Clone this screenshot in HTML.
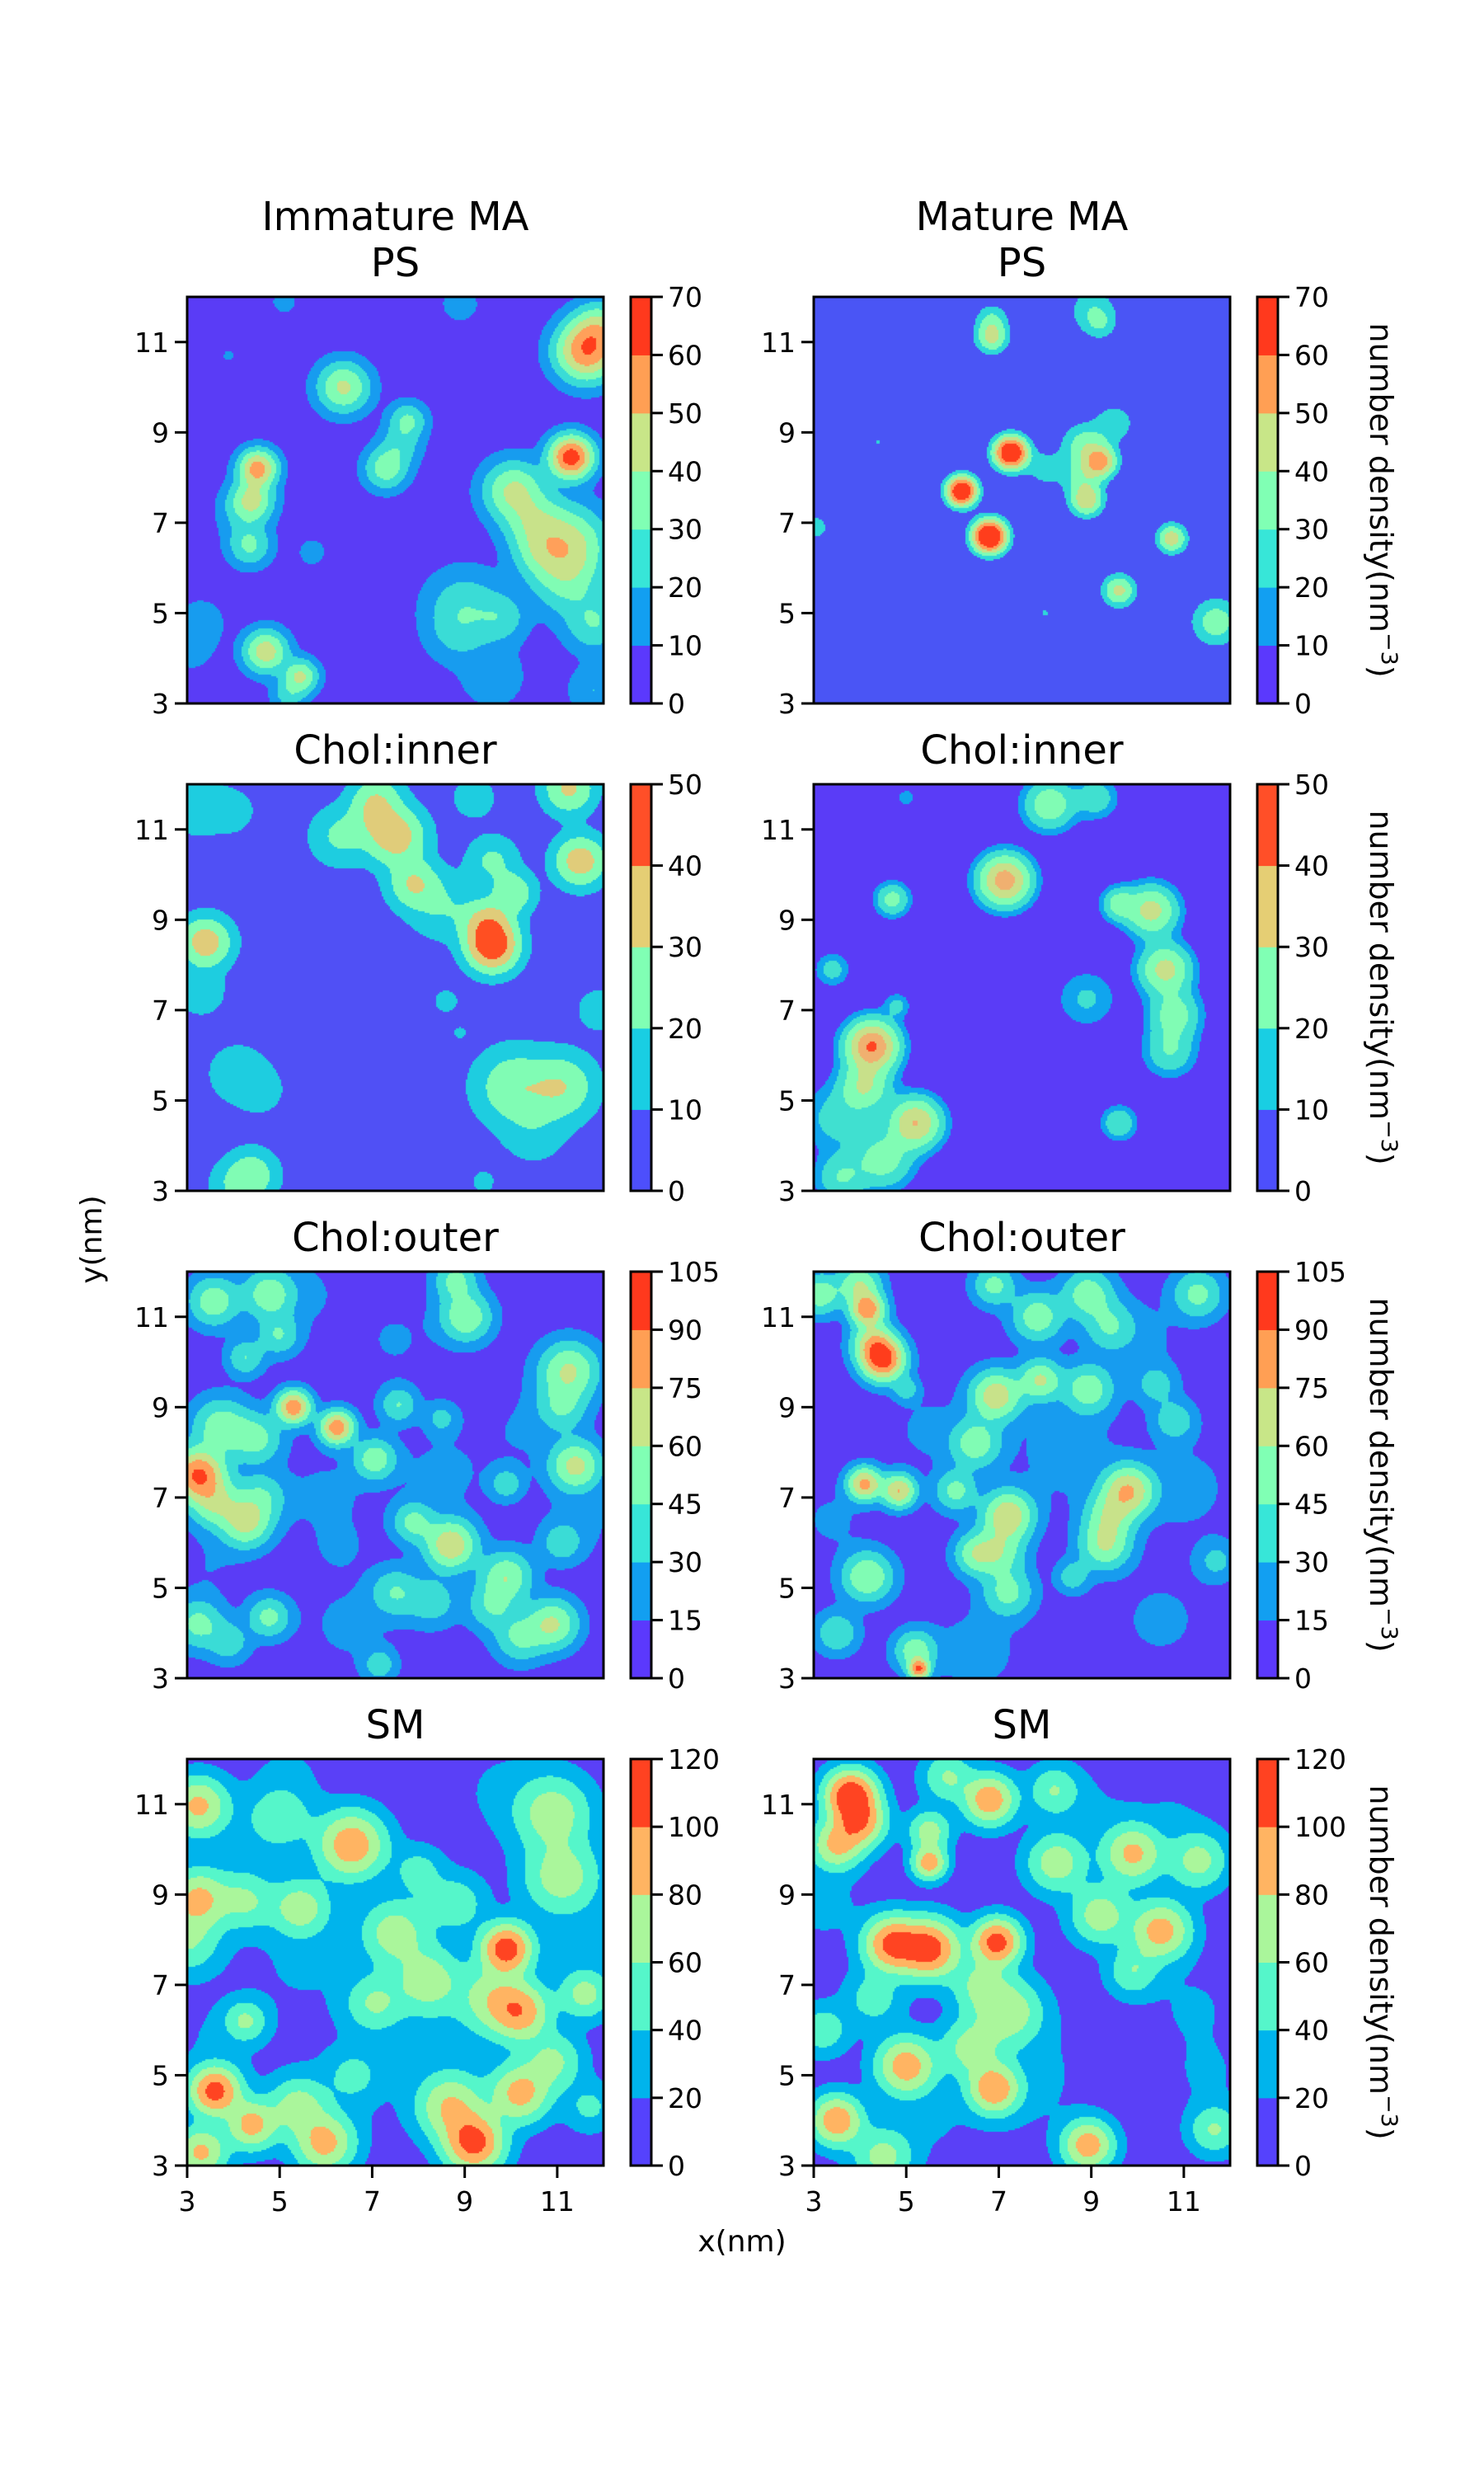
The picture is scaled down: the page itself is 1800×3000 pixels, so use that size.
<!DOCTYPE html>
<html><head><meta charset="utf-8">
<style>
html,body{margin:0;padding:0;background:#fff;}
#root{position:relative;width:1800px;height:3000px;overflow:hidden;background:#fff;}
canvas{position:absolute;}
svg{position:absolute;left:0;top:0;}
text{font-family:"DejaVu Sans","Liberation Sans",sans-serif;fill:#000;}
</style></head>
<body>
<div id="root">
<svg id="ov" width="1800" height="3000"></svg>
</div>
<script>
// ---------- data ----------
const xTicks=[3,5,7,9,11];
const yTicks=[3,5,7,9,11];
const rowTitles=["PS","Chol:inner","Chol:outer","SM"];
const psLevels=[0,10,20,30,40,50,60,70];
const cholInLevels=[0,10,20,30,40,50];
const cholOutLevels=[0,15,30,45,60,75,90,105];
const smLevels=[0,20,40,60,80,100,120];

// PS immature blobs
const psImmX=[11.63,11.9,6.38,7.77,7.3,7.6,4.53,4.4,4.2,11.3,10.06,10.5,11.2,11.2,11.8,4.35,5.7,9.0,9.8,8.8,4.7,5.45,5.2,3.3,3.1,9.6,8.9,5.1,3.9,11.8,10.6];
const psImmY=[10.8,11.3,10.0,9.25,8.2,8.7,8.2,7.5,7.2,8.45,7.7,7.0,6.5,5.7,4.8,6.5,6.35,5.1,4.9,4.5,4.15,3.6,3.2,4.8,4.2,3.6,11.85,11.9,10.7,3.3,6.3];
const psImmA=[58,40,42,32,36,25,55,42,20,66,42,35,46,30,30,32,18,28,25,18,46,42,25,16,14,17,15,13,11,20,25];
const psImmS=[.35,.3,.3,.22,.25,.25,.22,.25,.3,.25,.35,.35,.45,.4,.35,.25,.15,.45,.3,.35,.25,.2,.2,.3,.3,.4,.25,.2,.15,.3,.3];
// PS mature blobs
const psMatX=[6.85,6.85,9.03,9.2,7.26,6.2,6.8,8.86,9.2,8.9,8.8,9.5,8.0,10.74,9.6,11.7,3.05,8.0,4.4];
const psMatY=[11.1,11.5,11.7,11.4,8.55,7.7,6.7,8.7,8.35,7.5,8.0,9.2,8.2,6.65,5.5,4.8,6.9,5.0,8.8];
const psMatA=[42,30,28,25,75,75,80,36,52,47,32,28,25,46,43,36,28,22,22];
const psMatS=[.2,.2,.3,.2,.2,.18,.2,.28,.2,.2,.25,.25,.25,.18,.2,.3,.15,.08,.06];
// Chol inner immature
const ciImmX=[7.5,7.1,7.0,9.2,7.9,9.6,9.5,10.06,9.6,11.5,11.25,6.3,8.5,3.4,3.3,3.2,4.0,4.1,4.6,10.06,11.1,10.5,4.4,4.0,9.4,11.9,8.6,8.9];
const ciImmY=[10.85,11.7,11.3,11.7,9.8,8.4,8.9,9.6,10.3,10.3,11.9,10.85,9.3,8.5,7.4,11.5,11.4,5.6,5.2,5.3,5.3,4.3,3.35,3.1,3.2,7.0,7.2,6.5];
const ciImmA=[36,26,22,15,30,46,35,28,22,36,32,22,20,36,17,16,14,16,14,28,29,16,27,18,15,18,16,13];
const ciImmS=[.35,.3,.3,.3,.3,.3,.3,.25,.3,.3,.3,.35,.4,.3,.3,.4,.3,.4,.3,.45,.4,.4,.3,.3,.15,.25,.15,.1];
// Chol inner mature
const ciMatX=[7.13,4.7,3.4,4.26,4.1,5.2,4.5,3.6,4.8,8.1,9.1,10.3,9.6,10.6,10.8,10.7,8.9,9.6,3.5,5.0];
const ciMatY=[9.87,9.45,7.9,6.2,5.3,4.5,3.7,3.3,7.1,11.55,11.7,9.2,9.35,7.9,6.9,6.1,7.25,4.5,4.6,11.7];
const ciMatA=[42,25,18,46,30,38,26,22,17,28,20,33,26,33,26,22,16,22,18,12];
const ciMatS=[.3,.2,.2,.3,.3,.3,.35,.3,.15,.3,.25,.3,.2,.3,.3,.3,.35,.2,.4,.15];
// Chol outer immature
const coImmX=[3.58,4.77,4.98,4.26,5.3,6.24,3.75,4.5,3.24,3.6,4.26,4.6,7.06,7.57,9.03,8.8,11.25,11.1,11.4,8.7,7.9,9.9,10.9,10.2,9.6,3.24,4.77,3.9,7.16,7.5,8.3,9.9,8.5,11.1,6.3,6.0,8.5,7.5,10.3,6.5,11.5,3.5,5.5];
const coImmY=[11.34,11.5,10.6,10.1,9.0,8.55,8.55,8.3,7.5,6.9,6.45,7.0,7.85,9.05,11.0,11.8,9.8,9.0,7.7,5.95,6.45,5.25,4.2,3.9,4.6,4.2,4.35,3.8,3.3,4.9,4.7,7.3,8.75,6.0,5.9,7.0,7.5,10.5,8.5,4.2,6.5,5.5,11.5];
const coImmA=[55,55,45,45,85,85,55,50,92,60,65,45,55,45,58,50,62,45,65,72,50,58,62,48,45,50,50,40,40,45,40,40,35,40,18,18,18,16,16,18,18,15,18];
const coImmS=[.3,.3,.25,.22,.2,.2,.35,.3,.3,.3,.3,.3,.25,.22,.3,.25,.35,.3,.3,.3,.25,.3,.3,.3,.3,.3,.25,.25,.2,.3,.3,.2,.2,.25,.3,.6,.6,.6,.6,.6,.5,.5,.5];
// Chol outer mature
const coMatX=[4.16,3.99,3.14,4.5,4.3,5.0,6.94,7.9,6.5,6.07,7.84,6.9,8.93,9.4,11.3,4.1,4.84,7.2,7.0,9.8,9.3,9.4,8.93,4.16,3.5,5.2,5.28,7.2,6.5,8.6,10.8,10.4,11.7,8.5,5.5,11.0,6.5,10.5,3.4,10.0];
const coMatY=[11.16,11.7,11.5,10.05,10.4,9.4,9.25,9.6,8.2,7.15,11.0,11.7,11.5,10.8,11.5,7.3,7.15,6.6,5.8,7.15,5.95,6.6,9.4,5.25,4.0,3.6,3.2,4.9,5.75,5.25,8.7,9.5,5.6,8.0,8.5,7.2,3.6,4.3,6.5,10.5];
const coMatA=[85,60,55,95,70,40,70,62,55,50,55,50,55,45,50,80,75,72,55,75,60,55,55,60,45,55,88,50,55,40,42,38,35,20,18,20,20,18,18,20];
const coMatS=[.2,.25,.25,.25,.25,.15,.3,.25,.3,.25,.3,.25,.3,.3,.3,.2,.2,.3,.3,.3,.3,.3,.3,.3,.25,.25,.12,.3,.25,.2,.25,.25,.25,.7,.5,.6,.6,.6,.4,.5];
// SM immature
const smImmX=[3.24,3.24,3.0,6.55,4.26,5.45,5.0,7.5,8.2,9.9,10.2,9.6,11.1,10.9,11.6,7.06,4.26,3.6,4.4,3.3,5.97,5.4,9.2,8.7,10.2,10.9,6.6,8.0,8.8,11.7,5.5,6.5,8.7,3.7,9.8,5.2,11.5,4.0];
const smImmY=[10.96,8.9,8.0,10.1,8.86,8.7,10.7,8.15,7.1,7.8,6.4,6.7,9.4,10.8,6.8,6.6,6.2,4.65,3.9,3.3,3.5,4.3,3.5,4.3,4.6,5.3,5.0,9.5,8.8,4.3,7.5,4.8,6.0,5.8,11.3,11.7,8.0,10.0];
const smImmA=[85,85,62,95,62,72,55,72,72,112,92,70,72,72,68,62,62,108,88,85,88,70,108,82,88,65,45,50,55,45,22,22,25,22,22,22,22,22];
const smImmS=[.35,.35,.4,.4,.35,.35,.4,.4,.4,.3,.35,.4,.45,.45,.3,.35,.25,.3,.3,.3,.35,.35,.35,.4,.35,.35,.3,.3,.35,.3,.8,.7,.8,.6,.7,.5,.6,.6];
// SM mature
const smMatX=[3.8,4.0,3.5,5.5,5.5,4.7,5.5,6.96,6.8,5.9,9.9,8.25,10.5,11.3,9.2,7.2,6.6,5.0,6.9,6.4,3.5,4.5,8.93,9.9,11.66,3.2,8.2,4.3,7.5,11.2,3.2,9.0,10.8,5.5,11.5];
const smMatY=[11.2,10.6,10.1,9.7,10.4,7.9,7.8,7.95,11.1,11.6,9.9,9.7,8.2,9.75,8.55,6.4,7.0,5.2,4.7,5.6,4.0,3.2,3.45,7.3,3.8,6.0,11.3,6.7,5.0,6.5,8.8,10.8,10.8,4.0,5.0];
const smMatA=[118,95,85,92,70,106,110,110,95,62,85,72,90,68,72,75,62,92,96,68,96,68,92,58,62,55,60,50,26,22,26,22,20,22,22];
const smMatS=[.3,.3,.3,.2,.25,.33,.35,.28,.3,.3,.35,.35,.35,.35,.35,.4,.35,.35,.3,.35,.3,.35,.3,.3,.3,.3,.3,.35,.8,.6,.5,.6,.5,.5,.5];

// ---------- layout ----------
const AX_W=505, AX_H=493;
const colLeft=[227,987];
const rowTop=[360,951,1542,2133];
const cbLeft=[765,1525];
const CB_W=25;
const XMIN=3, XMAX=12, YMIN=3, YMAX=12;
const SIG_SCALE=1.6, POW=2;

function rainbow(t){
  const r=Math.min(1,Math.abs(2*t-0.5)), g=Math.sin(Math.PI*t), b=Math.cos(Math.PI*t/2);
  return 'rgb('+Math.round(r*255)+','+Math.round(g*255)+','+Math.round(Math.max(0,b)*255)+')';
}
function cbColors(levels){
  const top=levels[levels.length-1], out=[];
  for(let i=0;i<levels.length-1;i++) out.push(rainbow((levels[i]+levels[i+1])/2/top));
  return out;
}
const C7=["#5a3cf6","#179cef","#3adcd6","#80fcb4","#c8e28a","#ffa05a","#ff3d1c"];
const panels=[
 {row:0,col:0,bx:psImmX,by:psImmY,ba:psImmA,bs:psImmS,th:[10,20,30,40,50,60],cols:C7,name:'ps-immature-map'},
 {row:0,col:1,bx:psMatX,by:psMatY,ba:psMatA,bs:psMatS,th:[20,30,40,50,60],cols:["#4a55f5","#2ed8d8","#80fcb4","#c8e08a","#ffa05a","#ff3d1c"],name:'ps-mature-map'},
 {row:1,col:0,bx:ciImmX,by:ciImmY,ba:ciImmA,bs:ciImmS,th:[10,20,30,40],cols:["#5050f5","#1ecde0","#80fcb4","#e0cc7a","#ff4f22"],name:'chol-inner-immature-map'},
 {row:1,col:1,bx:ciMatX,by:ciMatY,ba:ciMatA,bs:ciMatS,th:[10,15,22,30,38,45],cols:["#5a3cf7","#10a5ee","#40e0d0","#80fcb4","#c8e08a","#f0b070","#ff4422"],name:'chol-inner-mature-map'},
 {row:2,col:0,bx:coImmX,by:coImmY,ba:coImmA,bs:coImmS,th:[15,30,45,60,75,90],cols:C7,name:'chol-outer-immature-map'},
 {row:2,col:1,bx:coMatX,by:coMatY,ba:coMatA,bs:coMatS,th:[15,30,45,60,75,90],cols:C7,name:'chol-outer-mature-map'},
 {row:3,col:0,bx:smImmX,by:smImmY,ba:smImmA,bs:smImmS,th:[20,40,60,80,100],cols:["#5a40f7","#00b4ec","#55f6ca","#aaf69b","#ffb462","#ff4422"],name:'sm-immature-map'},
 {row:3,col:1,bx:smMatX,by:smMatY,ba:smMatA,bs:smMatS,th:[20,40,60,80,100],cols:["#5a40f7","#00b4ec","#55f6ca","#aaf69b","#ffb462","#ff4422"],name:'sm-mature-map'}
];
const rowLevels=[psLevels,cholInLevels,cholOutLevels,smLevels];

const root=document.getElementById('root');
const svg=document.getElementById('ov');
const NS='http://www.w3.org/2000/svg';
function el(tag,attrs,parent){const e=document.createElementNS(NS,tag);for(const k in attrs)e.setAttribute(k,attrs[k]);(parent||svg).appendChild(e);return e;}
function sx(col,v){return colLeft[col]+(v-XMIN)/(XMAX-XMIN)*AX_W;}
function sy(row,v){return rowTop[row]+AX_H-(v-YMIN)/(YMAX-YMIN)*AX_H;}

// ---------- heatmaps ----------
panels.forEach(p=>{
  const c=document.createElement('canvas');
  c.width=AX_W;c.height=AX_H;
  c.style.left=colLeft[p.col]+'px';c.style.top=rowTop[p.row]+'px';
  
  
  root.insertBefore(c,svg);
  const ctx=c.getContext('2d');
  const step=2;
  for(let j=0;j<AX_H;j+=step){
    const y=YMAX-(j+step/2)/AX_H*(YMAX-YMIN);
    for(let i=0;i<AX_W;i+=step){
      const x=XMIN+(i+step/2)/AX_W*(XMAX-XMIN);
      let acc=0;
      for(let k=0;k<p.bx.length;k++){
        const dx=x-p.bx[k], dy=y-p.by[k], s=p.bs[k]*SIG_SCALE;
        const val=p.ba[k]*Math.exp(-(dx*dx+dy*dy)/(2*s*s));
        acc+=Math.pow(val,POW);
      }
      const v=Math.pow(acc,1/POW);
      let li=0;while(li<p.th.length&&v>=p.th[li])li++;
      ctx.fillStyle=p.cols[li];
      ctx.fillRect(i,j,step,step);
    }
  }
});

// ---------- axes, ticks, colorbars ----------
for(let r=0;r<4;r++){
  for(let c=0;c<2;c++){
    const g=el('g',{});
    
    
    el('rect',{x:colLeft[c],y:rowTop[r],width:AX_W,height:AX_H,fill:'none',stroke:'#000','stroke-width':3},g);
    yTicks.forEach(t=>{
      const yy=sy(r,t);
      el('line',{x1:colLeft[c]-15,x2:colLeft[c],y1:yy,y2:yy,stroke:'#000','stroke-width':3},g);
      const tx=el('text',{x:colLeft[c]-22,y:yy+12,'font-size':33,'text-anchor':'end'},g);
      tx.textContent=t;
      
      
    });
    if(r===3){
      xTicks.forEach(t=>{
        const xx=sx(c,t);
        el('line',{x1:xx,x2:xx,y1:rowTop[r]+AX_H,y2:rowTop[r]+AX_H+15,stroke:'#000','stroke-width':3},g);
        const tx=el('text',{x:xx,y:rowTop[r]+AX_H+55,'font-size':33,'text-anchor':'middle'},g);
        tx.textContent=t;
        
        
      });
    }
    const ttl=el('text',{x:colLeft[c]+AX_W/2,y:rowTop[r]-25,'font-size':48,'text-anchor':'middle'});
    ttl.textContent=rowTitles[r];
    
    
    const lv=rowLevels[r], cols=cbColors(lv), top=lv[lv.length-1];
    const cb=el('g',{});
    
    
    const cby=v=>rowTop[r]+AX_H-v/top*AX_H;
    for(let i=0;i<cols.length;i++){
      el('rect',{x:cbLeft[c],y:cby(lv[i+1]),width:CB_W,height:cby(lv[i])-cby(lv[i+1])+0.5,fill:cols[i]},cb);
    }
    el('rect',{x:cbLeft[c],y:rowTop[r],width:CB_W,height:AX_H,fill:'none',stroke:'#000','stroke-width':3},cb);
    lv.forEach(v=>{
      const yy=cby(v);
      el('line',{x1:cbLeft[c]+CB_W,x2:cbLeft[c]+CB_W+14,y1:yy,y2:yy,stroke:'#000','stroke-width':3},cb);
      const tx=el('text',{x:cbLeft[c]+CB_W+20,y:yy+12,'font-size':33},cb);
      tx.textContent=v;
      
      
    });
    if(c===1){
      const cx=1662, cy=rowTop[r]+AX_H/2;
      const lab=el('text',{x:cx,y:cy,'font-size':38,'text-anchor':'middle',transform:'rotate(90 '+cx+' '+cy+')'},cb);
      
      
      lab.appendChild(document.createTextNode('number density(nm'));
      const sup=el('tspan',{'font-size':27,dy:-14},lab);sup.textContent='\u22123';
      const cl=el('tspan',{'font-size':38,dy:14},lab);cl.textContent=')';
    }
  }
}
[['Immature MA',0],['Mature MA',1]].forEach(([t,c])=>{
  const tx=el('text',{x:colLeft[c]+AX_W/2,y:279,'font-size':48,'text-anchor':'middle'});
  tx.textContent=t;
  
  
});
const xl=el('text',{x:900,y:2730,'font-size':36,'text-anchor':'middle'});xl.textContent='x(nm)';


const yl=el('text',{x:111,y:1503,'font-size':36,'text-anchor':'middle',transform:'rotate(-90 111 1503)',dy:12});yl.textContent='y(nm)';


</script>
</body></html>
